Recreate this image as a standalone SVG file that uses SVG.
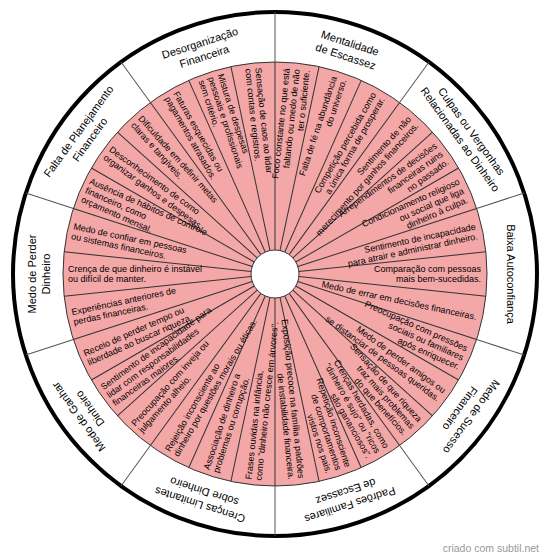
<svg xmlns="http://www.w3.org/2000/svg" width="550" height="559" viewBox="0 0 550 559">
<style>
.it{font-family:"Liberation Sans",Arial,sans-serif;font-size:9px;fill:#000}
.r{text-anchor:end}
.l{text-anchor:start}
.cat{font-family:"Liberation Sans",Arial,sans-serif;font-size:11px;fill:#000;text-anchor:middle}
.div{stroke:#333;stroke-width:1}
.odiv{stroke:#555;stroke-width:1}
</style>
<rect width="550" height="559" fill="#fff"/>
<g transform="translate(275,274)">
<circle r="262" fill="#fff" stroke="#000" stroke-width="4"/>
<circle r="212" fill="#F4A7A7" stroke="#333" stroke-width="1"/>
<g id="dividers">
<line class="odiv" x1="0" y1="-212" x2="0" y2="-262" transform="rotate(0)"/>
<line class="odiv" x1="0" y1="-212" x2="0" y2="-262" transform="rotate(36)"/>
<line class="odiv" x1="0" y1="-212" x2="0" y2="-262" transform="rotate(72)"/>
<line class="odiv" x1="0" y1="-212" x2="0" y2="-262" transform="rotate(108)"/>
<line class="odiv" x1="0" y1="-212" x2="0" y2="-262" transform="rotate(144)"/>
<line class="odiv" x1="0" y1="-212" x2="0" y2="-262" transform="rotate(180)"/>
<line class="odiv" x1="0" y1="-212" x2="0" y2="-262" transform="rotate(216)"/>
<line class="odiv" x1="0" y1="-212" x2="0" y2="-262" transform="rotate(252)"/>
<line class="odiv" x1="0" y1="-212" x2="0" y2="-262" transform="rotate(288)"/>
<line class="odiv" x1="0" y1="-212" x2="0" y2="-262" transform="rotate(324)"/>
<line class="div" x1="0" y1="-24" x2="0" y2="-212" transform="rotate(0)"/>
<line class="div" x1="0" y1="-24" x2="0" y2="-212" transform="rotate(12)"/>
<line class="div" x1="0" y1="-24" x2="0" y2="-212" transform="rotate(24)"/>
<line class="div" x1="0" y1="-24" x2="0" y2="-212" transform="rotate(36)"/>
<line class="div" x1="0" y1="-24" x2="0" y2="-212" transform="rotate(48)"/>
<line class="div" x1="0" y1="-24" x2="0" y2="-212" transform="rotate(60)"/>
<line class="div" x1="0" y1="-24" x2="0" y2="-212" transform="rotate(72)"/>
<line class="div" x1="0" y1="-24" x2="0" y2="-212" transform="rotate(84)"/>
<line class="div" x1="0" y1="-24" x2="0" y2="-212" transform="rotate(96)"/>
<line class="div" x1="0" y1="-24" x2="0" y2="-212" transform="rotate(108)"/>
<line class="div" x1="0" y1="-24" x2="0" y2="-212" transform="rotate(120)"/>
<line class="div" x1="0" y1="-24" x2="0" y2="-212" transform="rotate(132)"/>
<line class="div" x1="0" y1="-24" x2="0" y2="-212" transform="rotate(144)"/>
<line class="div" x1="0" y1="-24" x2="0" y2="-212" transform="rotate(156)"/>
<line class="div" x1="0" y1="-24" x2="0" y2="-212" transform="rotate(168)"/>
<line class="div" x1="0" y1="-24" x2="0" y2="-212" transform="rotate(180)"/>
<line class="div" x1="0" y1="-24" x2="0" y2="-212" transform="rotate(192)"/>
<line class="div" x1="0" y1="-24" x2="0" y2="-212" transform="rotate(204)"/>
<line class="div" x1="0" y1="-24" x2="0" y2="-212" transform="rotate(216)"/>
<line class="div" x1="0" y1="-24" x2="0" y2="-212" transform="rotate(228)"/>
<line class="div" x1="0" y1="-24" x2="0" y2="-212" transform="rotate(240)"/>
<line class="div" x1="0" y1="-24" x2="0" y2="-212" transform="rotate(252)"/>
<line class="div" x1="0" y1="-24" x2="0" y2="-212" transform="rotate(264)"/>
<line class="div" x1="0" y1="-24" x2="0" y2="-212" transform="rotate(276)"/>
<line class="div" x1="0" y1="-24" x2="0" y2="-212" transform="rotate(288)"/>
<line class="div" x1="0" y1="-24" x2="0" y2="-212" transform="rotate(300)"/>
<line class="div" x1="0" y1="-24" x2="0" y2="-212" transform="rotate(312)"/>
<line class="div" x1="0" y1="-24" x2="0" y2="-212" transform="rotate(324)"/>
<line class="div" x1="0" y1="-24" x2="0" y2="-212" transform="rotate(336)"/>
<line class="div" x1="0" y1="-24" x2="0" y2="-212" transform="rotate(348)"/>
</g>
<circle r="24" fill="#fff" stroke="#333" stroke-width="1"/>

<g id="mentalidade">
<text class="cat" transform="rotate(18)"><tspan x="0" y="-239">Mentalidade</tspan><tspan x="0" y="-225">de Escassez</tspan></text>
<text class="it r" transform="rotate(-84)"><tspan x="206" y="-6.8">Foco constante no que está</tspan><tspan x="206" y="3.2">faltando ou medo de não</tspan><tspan x="206" y="13.2">ter o suficiente.</tspan></text>
<text class="it r" transform="rotate(-72)"><tspan x="206" y="-1.8">Falta de fé na abundância</tspan><tspan x="206" y="8.2">do universo.</tspan></text>
<text class="it r" transform="rotate(-60)"><tspan x="206" y="-1.8">Competição percebida como</tspan><tspan x="206" y="8.2">a única forma de prosperar.</tspan></text>
</g>
<g id="culpas">
<text class="cat" transform="rotate(54)"><tspan x="0" y="-239">Culpas ou Vergonhas</tspan><tspan x="0" y="-225">Relacionadas ao Dinheiro</tspan></text>
<text class="it r" transform="rotate(-48)"><tspan x="206" y="-1.8">Sentimento de não</tspan><tspan x="206" y="8.2">merecimento por ganhos financeiros.</tspan></text>
<text class="it r" transform="rotate(-36)"><tspan x="206" y="-6.8">Arrependimentos de decisões</tspan><tspan x="206" y="3.2">financeiras ruins</tspan><tspan x="206" y="13.2">no passado.</tspan></text>
<text class="it r" transform="rotate(-24)"><tspan x="206" y="-6.8">Condicionamento religioso</tspan><tspan x="206" y="3.2">ou social que liga</tspan><tspan x="206" y="13.2">dinheiro à culpa.</tspan></text>
</g>
<g id="baixa">
<text class="cat" transform="rotate(90)"><tspan x="0" y="-232">Baixa Autoconfiança</tspan></text>
<text class="it r" transform="rotate(-12)"><tspan x="206" y="-1.8">Sentimento de incapacidade</tspan><tspan x="206" y="8.2">para atrair e administrar dinheiro.</tspan></text>
<text class="it r" transform="rotate(0)"><tspan x="206" y="-1.8">Comparação com pessoas</tspan><tspan x="206" y="8.2">mais bem-sucedidas.</tspan></text>
<text class="it r" transform="rotate(12)"><tspan x="206" y="3.2">Medo de errar em decisões financeiras.</tspan></text>
</g>
<g id="sucesso">
<text class="cat" transform="rotate(126)"><tspan x="0" y="-239">Medo de Sucesso</tspan><tspan x="0" y="-225">Financeiro</tspan></text>
<text class="it r" transform="rotate(24)"><tspan x="206" y="-6.8">Preocupação com pressões</tspan><tspan x="206" y="3.2">sociais ou familiares</tspan><tspan x="206" y="13.2">após enriquecer.</tspan></text>
<text class="it r" transform="rotate(36)"><tspan x="206" y="-1.8">Medo de perder amigos ou</tspan><tspan x="206" y="8.2">se distanciar de pessoas queridas.</tspan></text>
<text class="it r" transform="rotate(48)"><tspan x="206" y="-6.8">Sensação de que riqueza</tspan><tspan x="206" y="3.2">traz mais problemas</tspan><tspan x="206" y="13.2">do que benefícios.</tspan></text>
</g>
<g id="padroes">
<text class="cat" transform="rotate(162)"><tspan x="0" y="-239">Padrões Familiares</tspan><tspan x="0" y="-225">de Escassez</tspan></text>
<text class="it r" transform="rotate(60)"><tspan x="206" y="-6.8">Crenças herdadas, como</tspan><tspan x="206" y="3.2">"dinheiro é sujo" ou "ricos</tspan><tspan x="206" y="13.2">são gananciosos".</tspan></text>
<text class="it r" transform="rotate(72)"><tspan x="206" y="-6.8">Repetição inconsciente</tspan><tspan x="206" y="3.2">de comportamentos</tspan><tspan x="206" y="13.2">vistos nos pais.</tspan></text>
<text class="it r" transform="rotate(84)"><tspan x="206" y="-1.8">Exposição precoce na família a padrões</tspan><tspan x="206" y="8.2">de instabilidade financeira.</tspan></text>
</g>
<g id="crencas">
<text class="cat" transform="rotate(198)"><tspan x="0" y="-239">Crenças Limitantes</tspan><tspan x="0" y="-225">sobre Dinheiro</tspan></text>
<text class="it l" transform="rotate(-84)"><tspan x="-207" y="-1.8">Frases ouvidas na infância,</tspan><tspan x="-207" y="8.2">como "dinheiro não cresce em árvores".</tspan></text>
<text class="it l" transform="rotate(-72)"><tspan x="-207" y="-1.8">Associação de dinheiro a</tspan><tspan x="-207" y="8.2">problemas ou corrupção.</tspan></text>
<text class="it l" transform="rotate(-60)"><tspan x="-207" y="-1.8">Rejeição inconsciente ao</tspan><tspan x="-207" y="8.2">dinheiro por questões morais ou éticas.</tspan></text>
</g>
<g id="ganhar">
<text class="cat" transform="rotate(234)"><tspan x="0" y="-239">Medo de Ganhar</tspan><tspan x="0" y="-225">Dinheiro</tspan></text>
<text class="it l" transform="rotate(-48)"><tspan x="-207" y="-1.8">Preocupação com inveja ou</tspan><tspan x="-207" y="8.2">julgamento alheio.</tspan></text>
<text class="it l" transform="rotate(-36)"><tspan x="-207" y="-6.8">Sentimento de incapacidade para</tspan><tspan x="-207" y="3.2">lidar com responsabilidades</tspan><tspan x="-207" y="13.2">financeiras maiores.</tspan></text>
<text class="it l" transform="rotate(-24)"><tspan x="-207" y="-1.8">Receio de perder tempo ou</tspan><tspan x="-207" y="8.2">liberdade ao buscar riqueza.</tspan></text>
</g>
<g id="perder">
<text class="cat" transform="rotate(270)"><tspan x="0" y="-239">Medo de Perder</tspan><tspan x="0" y="-225">Dinheiro</tspan></text>
<text class="it l" transform="rotate(-12)"><tspan x="-207" y="-1.8">Experiências anteriores de</tspan><tspan x="-207" y="8.2">perdas financeiras.</tspan></text>
<text class="it l" transform="rotate(0)"><tspan x="-207" y="-1.8">Crença de que dinheiro é instável</tspan><tspan x="-207" y="8.2">ou difícil de manter.</tspan></text>
<text class="it l" transform="rotate(12)"><tspan x="-207" y="-1.8">Medo de confiar em pessoas</tspan><tspan x="-207" y="8.2">ou sistemas financeiros.</tspan></text>
</g>
<g id="planejamento">
<text class="cat" transform="rotate(306)"><tspan x="0" y="-239">Falta de Planejamento</tspan><tspan x="0" y="-225">Financeiro</tspan></text>
<text class="it l" transform="rotate(24)"><tspan x="-207" y="-6.8">Ausência de hábitos de controle</tspan><tspan x="-207" y="3.2">financeiro, como</tspan><tspan x="-207" y="13.2">orçamento mensal.</tspan></text>
<text class="it l" transform="rotate(36)"><tspan x="-207" y="-1.8">Desconhecimento de como</tspan><tspan x="-207" y="8.2">organizar ganhos e despesas.</tspan></text>
<text class="it l" transform="rotate(48)"><tspan x="-207" y="-1.8">Dificuldade em definir metas</tspan><tspan x="-207" y="8.2">claras e tangíveis.</tspan></text>
</g>
<g id="desorganizacao">
<text class="cat" transform="rotate(342)"><tspan x="0" y="-239">Desorganização</tspan><tspan x="0" y="-225">Financeira</tspan></text>
<text class="it l" transform="rotate(60)"><tspan x="-207" y="-1.8">Faturas esquecidas ou</tspan><tspan x="-207" y="8.2">pagamentos atrasados.</tspan></text>
<text class="it l" transform="rotate(72)"><tspan x="-207" y="-6.8">Mistura de despesas</tspan><tspan x="-207" y="3.2">pessoais e profissionais</tspan><tspan x="-207" y="13.2">sem critério.</tspan></text>
<text class="it l" transform="rotate(84)"><tspan x="-207" y="-1.8">Sensação de caos ao lidar</tspan><tspan x="-207" y="8.2">com contas e registros.</tspan></text>
</g>
</g>
<text x="539" y="552" font-family="Liberation Sans, Arial, sans-serif" font-size="10.5" fill="#999" text-anchor="end">criado com subtil.net</text>
</svg>
